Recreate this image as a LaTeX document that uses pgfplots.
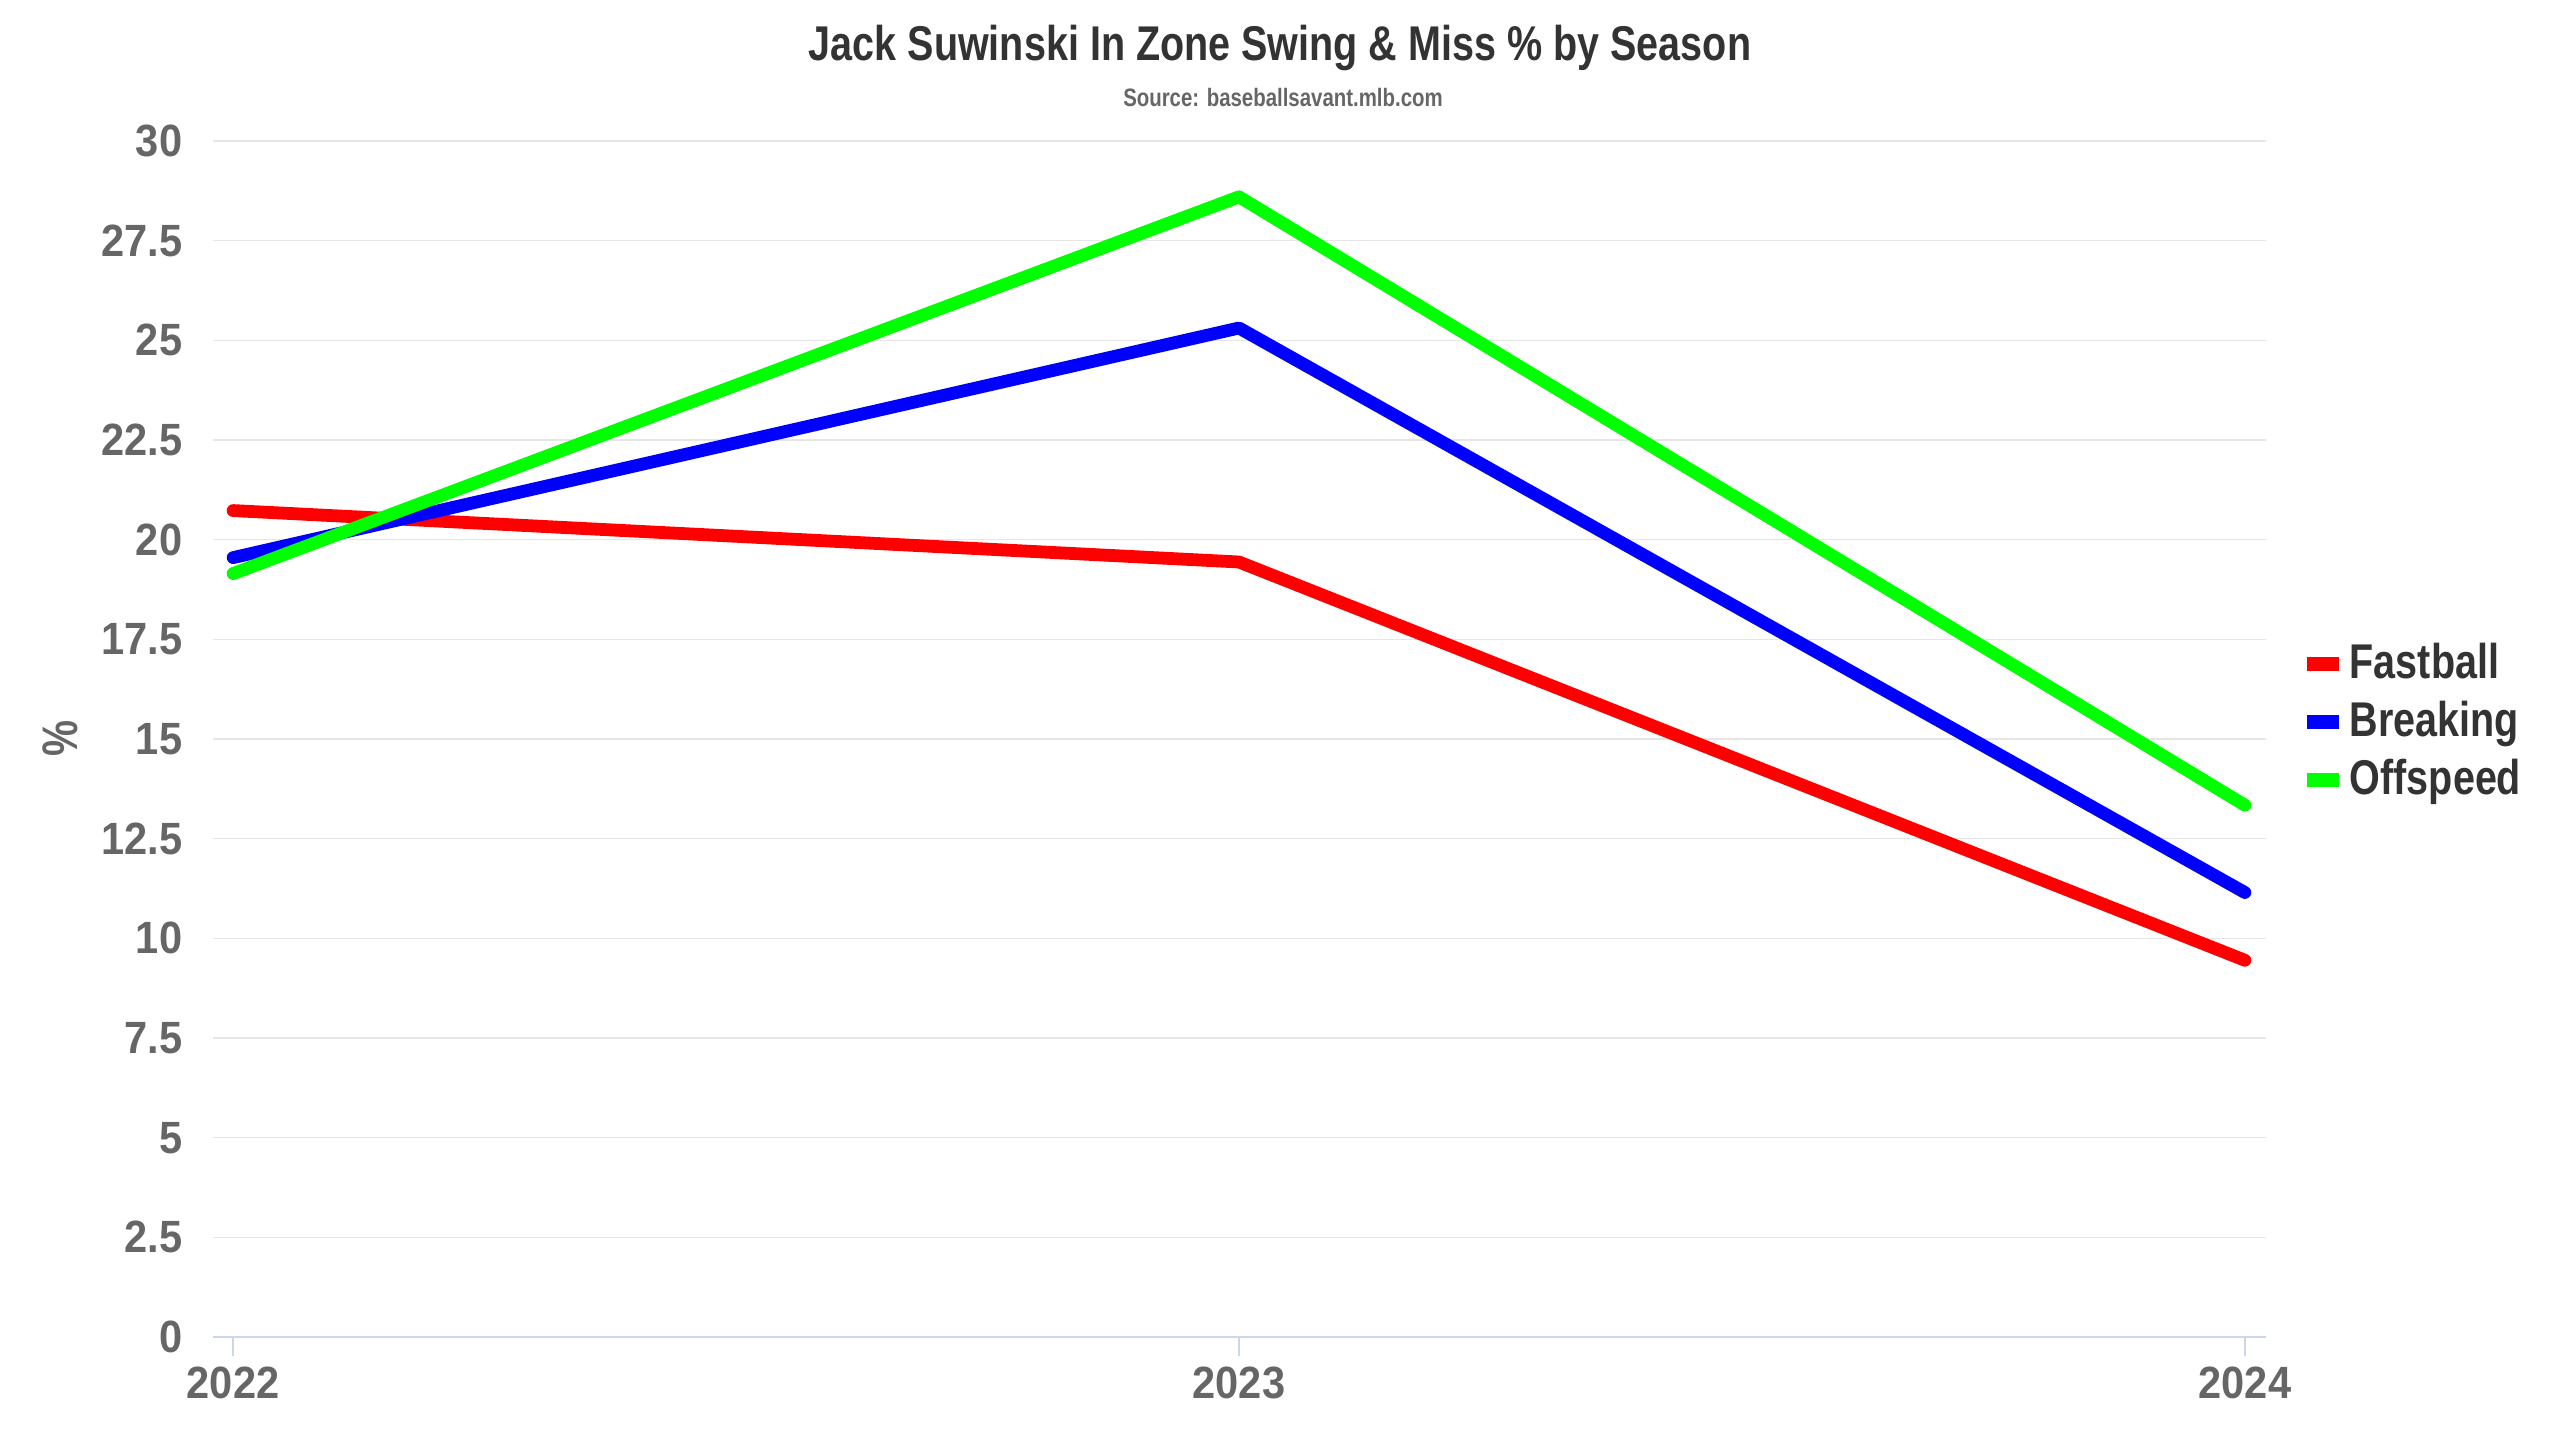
\documentclass[border=0pt]{standalone}
\usepackage{pgfplots}
\pgfplotsset{compat=1.18}
\usepackage{fontspec}
\setmainfont{Liberation Sans}[FakeStretch=0.81]
\newfontfamily\numfont{Liberation Sans}[FakeStretch=0.92]
\definecolor{titlec}{HTML}{333333}
\definecolor{tickc}{HTML}{666666}
\definecolor{gridc}{HTML}{E6E6E6}
\definecolor{axisc}{HTML}{CCD6EB}
\definecolor{fastc}{HTML}{FF0000}
\definecolor{breakc}{HTML}{0000FF}
\definecolor{offc}{HTML}{00FF00}
\begin{document}
\begin{tikzpicture}
\path[use as bounding box] (0,0) rectangle (640pt,360pt);
\begin{axis}[
  at={(53.25pt,25.75pt)}, anchor=south west,
  scale only axis, width=513.25pt, height=299pt,
  xmin=2021.98, xmax=2024.021, ymin=0, ymax=30,
  xtick={2022,2023,2024}, xticklabels={2022,2023,2024},
  ytick={0,2.5,5,7.5,10,12.5,15,17.5,20,22.5,25,27.5,30},
  yticklabels={0,2.5,5,7.5,10,12.5,15,17.5,20,22.5,25,27.5,30},
  axis x line*=bottom, axis y line*=left,
  x axis line style={axisc, line width=0.45pt},
  y axis line style={draw=none},
  ymajorgrids, grid style={gridc, line width=0.4pt},
  tick align=outside, major tick length=4.75pt,
  xtick style={axisc, line width=0.45pt},
  ytick style={draw=none},
  yticklabel style={font=\numfont\bfseries\fontsize{11.3}{12}\selectfont, text=tickc, anchor=east, inner sep=0pt, xshift=-2.75pt},
  xticklabel style={font=\numfont\bfseries\fontsize{11.3}{12}\selectfont, text=tickc, anchor=base, inner sep=0pt, yshift=-10.5pt},
  clip=false,
  legend image code/.code={\fill[#1, draw=none] (0pt,-1pt) rectangle (8pt,2.5pt);},
  legend style={at={(1,0.5)}, anchor=west, xshift=10pt, yshift=3.4pt, draw=none, fill=none, inner sep=0pt, row sep=0pt, column sep=2.75pt, font=\bfseries\fontsize{12.2}{14}\selectfont, text=titlec, nodes={inner sep=0pt, text height=10pt, text depth=4.5pt}, cells={anchor=west}},
]
\addplot[color=fastc, line width=3.2pt, line cap=round, line join=round] coordinates {(2022,20.73) (2023,19.44) (2024,9.45)};
\addlegendentry{Fastball}
\addplot[color=breakc, line width=3.2pt, line cap=round, line join=round] coordinates {(2022,19.55) (2023,25.31) (2024,11.15)};
\addlegendentry{Breaking}
\addplot[color=offc, line width=3.2pt, line cap=round, line join=round] coordinates {(2022,19.15) (2023,28.6) (2024,13.34)};
\addlegendentry{Offspeed}
\end{axis}
\node[anchor=base, text=titlec, font=\bfseries\fontsize{12.2}{14}\selectfont] at (320pt,345pt) {Jack Suwinski In Zone Swing \& Miss \% by Season};
\node[anchor=base, text=tickc, font=\bfseries\fontsize{6.3}{7}\selectfont] at (320.75pt,333.5pt) {Source: baseballsavant.mlb.com};
\node[rotate=90, text=tickc, font=\bfseries\fontsize{12.5}{14}\selectfont] at (15pt,175.5pt) {\%};
\end{tikzpicture}
\end{document}
